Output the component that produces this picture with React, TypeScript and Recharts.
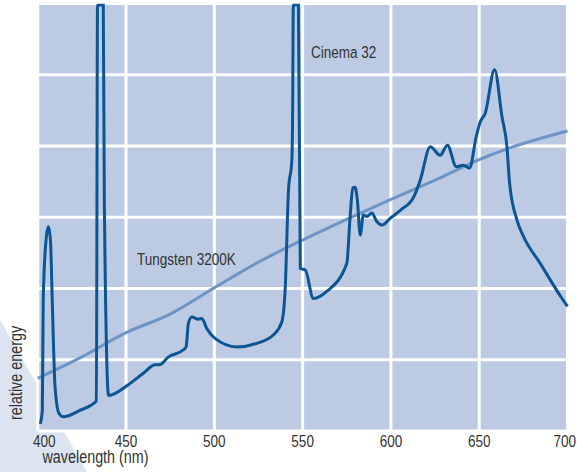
import React from "react";
import { CartesianGrid, Line, LineChart, XAxis, YAxis } from "recharts";

// wavelength (nm) / relative energy
const cinemaNm = [
  401.4, 402.6, 403.1, 404.7, 406.0, 407.2, 408.2, 409.8, 412.0, 414.5, 423.9, 433.2, 433.85, 437.1,
  437.7, 440.1, 451.3, 459.8, 466.4, 468.9, 474.0, 482.5, 484.0, 485.3, 487.2, 491.0, 492.9, 495.7,
  500.4, 512.7, 524.1, 533.5, 538.2, 540.1, 542.0, 543.9, 544.4, 544.7, 547.6, 548.7, 551.5, 556.1,
  563.7, 575.0, 576.9, 578.4, 579.7, 581.0, 582.6, 584.4, 586.4, 589.2, 592.0, 594.9, 599.8, 605.5,
  613.0, 616.6, 622.3, 627.9, 632.0, 637.0, 641.1, 644.5, 648.3, 650.6, 653.4, 658.7, 662.9, 665.7,
  667.2, 671.4, 675.1, 684.6, 696.9, 700.0,
];
const cinemaVal = [
  0.1, 0.29, 1.84, 2.68, 2.87, 2.68, 1.84, 0.62, 0.25, 0.2, 0.29, 0.42, 5.98, 5.98,
  3.24, 0.5, 0.65, 0.81, 0.93, 0.93, 1.04, 1.14, 1.18, 1.51, 1.6, 1.57, 1.58, 1.44,
  1.3, 1.18, 1.23, 1.35, 1.53, 1.98, 3.38, 3.8, 4.65, 5.98, 5.98, 2.28, 2.26, 1.86,
  1.96, 2.35, 3.01, 3.41, 3.42, 3.24, 2.75, 3.03, 3.01, 3.06, 2.94, 2.89, 2.99, 3.1,
  3.29, 3.52, 3.99, 3.87, 4.01, 3.71, 3.73, 3.69, 4.13, 4.34, 4.46, 5.07, 4.41, 3.99,
  3.48, 2.96, 2.73, 2.35, 1.86, 1.75,
];

const tungstenNm = [400, 425, 450, 475, 500, 525, 550, 575, 600, 625, 650, 667, 700];
const tungstenVal = [0.74, 1.04, 1.38, 1.64, 2.01, 2.37, 2.68, 2.97, 3.25, 3.52, 3.81, 3.97, 4.21];

const xTicks = [400, 450, 500, 550, 600, 650, 700];
const yTicks = [1, 2, 3, 4, 5];

const cinema = cinemaNm.map((nm, i) => ({ nm, v: cinemaVal[i] }));
const tungsten = tungstenNm.map((nm, i) => ({ nm, v: tungstenVal[i] }));

// no condensed face installed, so squeeze Liberation Sans horizontally
const FONT = "'Liberation Sans', Arial, sans-serif";
const TEXT = "#333333";

function CText({ x, y, anchor = "start", rotate = 0, size = 16.5, children }: any) {
  return (
    <text
      transform={`translate(${x} ${y}) rotate(${rotate}) scale(0.82 1)`}
      textAnchor={anchor}
      fill={TEXT}
      fontSize={size}
      fontFamily={FONT}
    >
      {children}
    </text>
  );
}

function XTick(props: any) {
  const { x, y, payload } = props;
  const v = payload.value;
  // end labels are nudged inward like the original
  let anchor = "middle";
  let dx = 0;
  if (v === 400) {
    anchor = "start";
    dx = -4.75;
  } else if (v === 700) {
    anchor = "end";
    dx = 8.5;
  }
  return (
    <CText x={x + dx} y={y + 15.5} anchor={anchor}>
      {v}
    </CText>
  );
}

export default function App() {
  return (
    <div style={{ position: "absolute", left: 0, top: 0, width: 577, height: 472, background: "#fff" }}>
      <svg width={577} height={472} style={{ position: "absolute", left: 0, top: 0 }}>
        <polygon points="0,320 87,472 0,472" fill="#DCE3F1" />
      </svg>
      <div style={{ position: "absolute", left: 0, top: 0 }}>
        <LineChart width={577} height={472} data={cinema} margin={{ top: 3.5, right: 9.5, bottom: 11, left: 37.75 }}>
          <CartesianGrid stroke="#ffffff" strokeWidth={3} fill="#BCCBE3" fillOpacity={1} />
          <XAxis
            dataKey="nm"
            type="number"
            domain={[400, 700]}
            ticks={xTicks}
            height={30}
            axisLine={false}
            tickLine={false}
            tickSize={0}
            tickMargin={0}
            tick={<XTick />}
            interval={0}
          />
          <YAxis hide domain={[0, 6]} ticks={yTicks} allowDataOverflow />
          <Line
            data={tungsten}
            dataKey="v"
            type="monotone"
            stroke="#6E94C6"
            strokeWidth={3}
            dot={false}
            isAnimationActive={false}
          />
          <Line
            data={cinema}
            dataKey="v"
            type="monotone"
            stroke="#0B5594"
            strokeWidth={3}
            dot={false}
            isAnimationActive={false}
          />
        </LineChart>
      </div>
      <svg width={577} height={472} style={{ position: "absolute", left: 0, top: 0, pointerEvents: "none" }}>
        <CText x={311} y={58}>Cinema 32</CText>
        <CText x={137} y={265}>Tungsten 3200K</CText>
        <CText x={42.5} y={463} size={17.5}>wavelength (nm)</CText>
        <CText x={21.5} y={420} rotate={-90} size={17.5}>relative energy</CText>
      </svg>
    </div>
  );
}
